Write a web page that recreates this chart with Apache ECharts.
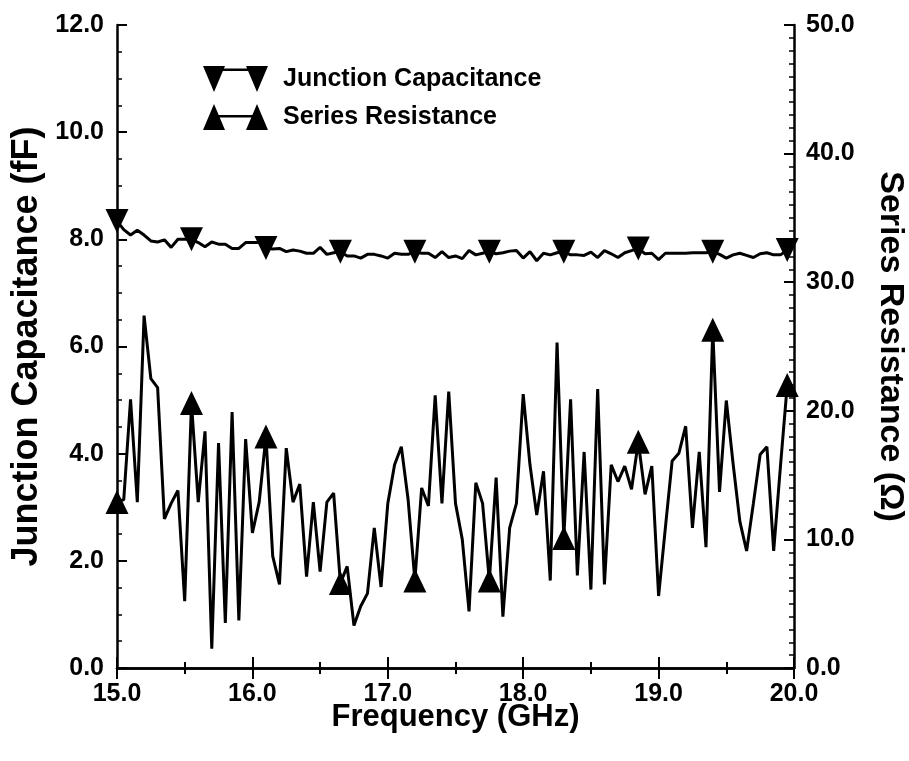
<!DOCTYPE html>
<html>
<head>
<meta charset="utf-8">
<script src="https://cdn.jsdelivr.net/npm/echarts@6/dist/echarts.min.js"></script>
<style>
  html, body { margin: 0; padding: 0; background: #fff; }
  #chart { width: 909px; height: 761px; }
</style>
</head>
<body>
<div id="chart"></div>
<script>
// frequency grid: 15.00 GHz in 0.05 GHz steps, 100 points
const freqStart = 15.0
const freqStep = 0.05

// junction capacitance (fF), left axis
const capacitance = [
  8.34, 8.18, 8.08, 8.17, 8.08, 7.97, 7.95, 7.99, 7.85, 8.00,
  8.00, 8.00, 7.94, 7.86, 7.95, 7.91, 7.91, 7.83, 7.83, 7.94,
  7.94, 7.94, 7.84, 7.82, 7.83, 7.77, 7.80, 7.78, 7.74, 7.74,
  7.85, 7.72, 7.75, 7.77, 7.69, 7.69, 7.65, 7.72, 7.72, 7.69,
  7.65, 7.74, 7.72, 7.72, 7.77, 7.74, 7.74, 7.66, 7.77, 7.66,
  7.69, 7.64, 7.79, 7.71, 7.74, 7.77, 7.73, 7.75, 7.78, 7.79,
  7.65, 7.77, 7.60, 7.74, 7.71, 7.75, 7.77, 7.71, 7.71, 7.70,
  7.76, 7.66, 7.79, 7.73, 7.66, 7.75, 7.79, 7.83, 7.73, 7.74,
  7.62, 7.74, 7.74, 7.74, 7.74, 7.75, 7.75, 7.75, 7.77, 7.72,
  7.65, 7.71, 7.74, 7.70, 7.66, 7.73, 7.75, 7.71, 7.71, 7.80
]

// series resistance (ohm), right axis
const resistance = [
  12.9, 13.1, 20.9, 12.9, 27.4, 22.5, 21.8, 11.6, 12.8, 13.8,
  5.2, 20.6, 12.9, 18.4, 1.5, 17.5, 3.5, 19.9, 3.7, 17.8,
  10.5, 12.9, 18.0, 8.7, 6.5, 17.1, 12.9, 14.3, 7.1, 12.9,
  7.5, 12.9, 13.6, 6.6, 7.9, 3.3, 4.8, 5.8, 10.9, 6.3,
  12.8, 15.8, 17.2, 13.1, 6.8, 14.0, 12.6, 21.2, 12.8, 21.5,
  12.8, 10.0, 4.4, 14.4, 12.8, 6.8, 14.8, 4.0, 10.9, 12.8,
  21.3, 15.8, 11.9, 15.3, 6.8, 25.3, 10.1, 20.9, 7.2, 16.8,
  6.1, 21.7, 6.5, 15.8, 14.5, 15.7, 13.9, 17.6, 13.5, 15.7,
  5.6, 10.9, 16.1, 16.7, 18.8, 10.9, 16.8, 9.4, 26.3, 13.7,
  20.8, 15.9, 11.4, 9.1, 12.8, 16.6, 17.2, 9.1, 15.7, 22.0
]

const markerEvery = 11
const names = ['Junction Capacitance', 'Series Resistance']

const freq = capacitance.map((v, i) => +(freqStart + i * freqStep).toFixed(2))
const pairs = arr => arr.map((v, i) => [freq[i], v])
const markerPairs = arr => pairs(arr).filter((p, i) => i % markerEvery === 0)

const font = '"Liberation Sans", Arial, sans-serif'

const tickLabel = { color: '#000', fontFamily: font, fontWeight: 'bold', fontSize: 25 }
const axisLineStyle = { color: '#000', width: 2.5 }

const iconDown = 'path://M0,0L22,0L11,26ZM43,0L65,0L54,26ZM11,2.5L54,2.5L54,5L11,5Z'
const iconUp = 'path://M0,26L11,0L22,26ZM43,26L54,0L65,26ZM11,11L54,11L54,13.5L11,13.5Z'

var chart = echarts.init(document.getElementById('chart'))
chart.setOption({
  animation: false,
  backgroundColor: '#fff',
  grid: { left: 117, right: 115, top: 25, bottom: 93, outerBoundsMode: 'none' },
  legend: {
    orient: 'vertical',
    left: 198,
    top: 61,
    itemWidth: 65,
    itemHeight: 26,
    itemGap: 12,
    selectedMode: false,
    textStyle: { color: '#000', fontFamily: font, fontWeight: 'bold', fontSize: 25, padding: [0, 0, 0, 10] },
    data: [
      { name: names[0], icon: iconDown },
      { name: names[1], icon: iconUp }
    ]
  },
  xAxis: [{
    type: 'value',
    min: 15, max: 20, interval: 1,
    position: 'bottom',
    name: 'Frequency (GHz)',
    nameLocation: 'middle',
    nameGap: 34,
    nameMoveOverlap: false,
    nameTextStyle: { color: '#000', fontFamily: font, fontWeight: 'bold', fontSize: 31 },
    axisLine: { lineStyle: axisLineStyle },
    axisTick: { inside: true, length: 11, lineStyle: { color: '#000', width: 2 } },
    minorTick: { show: true, splitNumber: 2, length: 6, lineStyle: { color: '#000', width: 2 } },
    axisLabel: Object.assign({ margin: 14, formatter: v => v.toFixed(1) }, tickLabel),
    splitLine: { show: false }
  }, {
    type: 'value',
    min: 15, max: 20, interval: 1,
    position: 'top',
    axisLine: { lineStyle: axisLineStyle },
    axisTick: { inside: true, length: 11, lineStyle: { color: '#000', width: 2 } },
    minorTick: { show: true, splitNumber: 2, length: 6, lineStyle: { color: '#000', width: 2 } },
    axisLabel: { show: false },
    splitLine: { show: false }
  }],
  yAxis: [{
    type: 'value',
    min: 0, max: 12, interval: 2,
    position: 'left',
    name: 'Junction Capacitance (fF)',
    nameLocation: 'middle',
    nameRotate: 90,
    nameGap: 72,
    nameMoveOverlap: false,
    nameTextStyle: { color: '#000', fontFamily: font, fontWeight: 'bold', fontSize: 36 },
    axisLine: { show: true, lineStyle: axisLineStyle },
    axisTick: { inside: true, length: 10, lineStyle: { color: '#000', width: 2 } },
    minorTick: { show: true, splitNumber: 4, length: 5, lineStyle: { color: '#000', width: 1.5 } },
    axisLabel: Object.assign({ margin: 13, formatter: v => v.toFixed(1) }, tickLabel),
    splitLine: { show: false }
  }, {
    type: 'value',
    min: 0, max: 50, interval: 10,
    position: 'right',
    name: 'Series Resistance (Ω)',
    nameLocation: 'middle',
    nameRotate: -90,
    nameGap: 79,
    nameMoveOverlap: false,
    nameTextStyle: { color: '#000', fontFamily: font, fontWeight: 'bold', fontSize: 34 },
    axisLine: { show: true, lineStyle: axisLineStyle },
    axisTick: { inside: true, length: 10, lineStyle: { color: '#000', width: 2 } },
    minorTick: { show: true, splitNumber: 10, length: 5, lineStyle: { color: '#000', width: 1.5 } },
    axisLabel: Object.assign({ margin: 12, formatter: v => v.toFixed(1) }, tickLabel),
    splitLine: { show: false }
  }],
  series: [{
    name: names[0],
    type: 'line',
    xAxisIndex: 0, yAxisIndex: 0,
    data: pairs(capacitance),
    showSymbol: false,
    color: '#000',
    lineStyle: { color: '#000', width: 3 },
    z: 2
  }, {
    name: names[0],
    type: 'scatter',
    xAxisIndex: 0, yAxisIndex: 0,
    data: markerPairs(capacitance),
    symbol: 'triangle',
    symbolRotate: 180,
    symbolSize: [23, 24],
    itemStyle: { color: '#000', opacity: 1 },
    z: 3
  }, {
    name: names[1],
    type: 'line',
    xAxisIndex: 0, yAxisIndex: 1,
    data: pairs(resistance),
    showSymbol: false,
    color: '#000',
    lineStyle: { color: '#000', width: 3 },
    z: 2
  }, {
    name: names[1],
    type: 'scatter',
    xAxisIndex: 0, yAxisIndex: 1,
    data: markerPairs(resistance),
    symbol: 'triangle',
    symbolSize: [23, 24],
    itemStyle: { color: '#000', opacity: 1 },
    z: 3
  }]
})
</script>
</body>
</html>
